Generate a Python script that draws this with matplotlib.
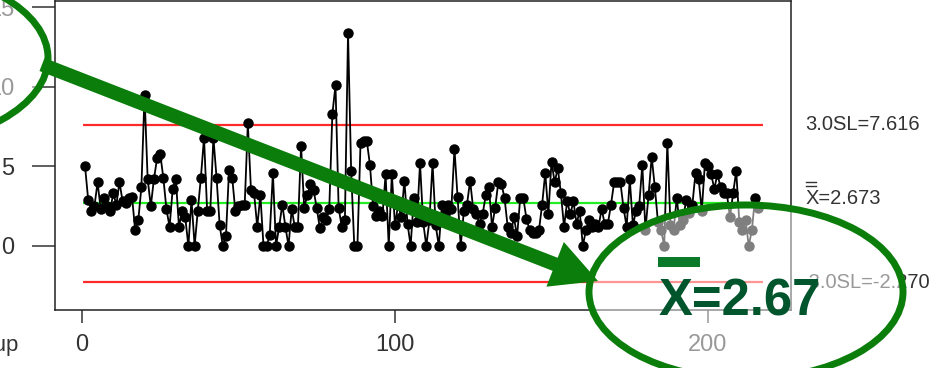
import matplotlib.pyplot as plt
from matplotlib.patches import Ellipse, FancyArrow, Rectangle

# -----------------------------
# Data
# -----------------------------
values = [
    5.0, 2.9, 2.2, 2.5, 4.0, 2.3, 3.0, 2.5, 2.2, 3.3,
    2.6, 4.0, 2.8, 2.7, 3.0, 3.1, 1.0, 1.6, 3.7, 9.5,
    4.2, 2.5, 4.2, 5.5, 5.8, 4.3, 2.3, 1.2, 3.6, 4.2,
    1.2, 2.2, 1.8, 0.0, 2.9, 0.0, 2.2, 4.3, 6.8, 2.2,
    2.2, 6.8, 4.3, 1.3, 0.0, 0.6, 4.8, 4.3, 2.2, 2.5,
    2.6, 2.6, 7.7, 3.5, 3.3, 1.2, 3.2, 0.0, 0.0, 0.7,
    4.6, 0.0, 1.2, 2.6, 1.2, 0.0, 2.3, 1.2, 1.2, 6.3,
    2.4, 3.2, 3.9, 3.5, 2.4, 1.1, 1.8, 1.6, 2.3, 8.3,
    10.1, 2.4, 1.2, 1.6, 13.4, 4.7, 0.0, 0.0, 6.5, 6.6,
    6.6, 5.1, 2.5, 1.9, 2.2, 1.9, 4.5, 0.0, 4.5, 1.3,
    2.6, 1.8, 4.1, 1.4, 0.0, 3.0, 1.5, 5.2, 1.5, 0.0,
    1.6, 5.2, 1.3, 0.0, 2.6, 2.0, 2.6, 2.3, 6.1, 3.1,
    0.0, 2.2, 2.6, 4.1, 2.3, 2.0, 1.4, 2.0, 3.2, 3.7,
    1.2, 2.4, 4.0, 3.9, 3.0, 1.2, 0.8, 1.8, 0.6, 3.0,
    3.0, 1.7, 1.0, 0.8, 0.8, 1.0, 2.6, 4.6, 2.0, 5.3,
    4.0, 4.9, 3.3, 1.2, 2.8, 2.0, 2.8, 1.4, 2.2, 0.0,
    1.0, 1.6, 1.2, 1.4, 1.2, 2.3, 1.4, 1.4, 2.6, 4.0,
    4.0, 4.0, 2.4, 1.2, 4.2, 1.3, 2.2, 2.5, 5.1, 1.0,
    3.2, 5.6, 3.7, 1.5, 1.0, 0.0, 6.5, 1.3, 1.0, 3.0,
    1.3, 1.6, 2.9, 2.1, 2.6, 4.6, 4.2, 2.2, 5.2, 5.0,
    4.5, 3.6, 4.5, 3.7, 3.3, 3.3, 1.8, 3.3, 4.7, 1.5,
    1.0, 1.6, 0.0, 1.0, 3.0, 2.4,
]
subgroups = list(range(1, len(values) + 1))

ucl = 7.616
center = 2.673
lcl = -2.270

x_ticks = [0, 100, 200]
y_ticks = [0, 5, 10, 15]

ucl_label = "3.0SL=7.616"
center_label = "X=2.673"
lcl_label = "-3.0SL=-2.270"
callout = "X=2.67"

W, H = 933, 368
font = ["Liberation Sans", "DejaVu Sans"]

# -----------------------------
# Base chart
# -----------------------------
fig = plt.figure(figsize=(W / 100, H / 100), dpi=100)
ax = fig.add_axes([55 / W, 1 - 310 / H, (791 - 55) / W, (310 - 1) / H])

ax.plot(subgroups, values, "-o", color="black", linewidth=1.3,
        markersize=6.5, zorder=3)
ax.hlines([ucl, lcl], 0.5, 217.5, color="#ff2a2a", linewidth=1.6, zorder=2)
ax.hlines(center, 0.5, 217.5, color="#22ee22", linewidth=1.6, zorder=2)

ax.set_xlim(-8.6, 226.5)
ax.set_ylim(-4.03, 15.4)
ax.set_xticks(x_ticks)
ax.set_yticks(y_ticks)
ax.tick_params(axis="y", length=16.5, width=1.1, pad=13, colors="#333333",
               labelsize=17)
ax.tick_params(axis="x", length=9.5, width=1.1, pad=8, colors="#333333",
               labelsize=17)
for lab in ax.get_xticklabels() + ax.get_yticklabels():
    lab.set_family(font)
for sp in ax.spines.values():
    sp.set_linewidth(1.1)
    sp.set_color("#222222")

# labels to the right of the frame
kw = dict(transform=ax.transData, family=font, fontsize=14.5,
          color="#333333", va="center", ha="left", clip_on=False)
ax.text(231, ucl, ucl_label, **kw)
ax.text(231, center + 0.3, center_label, **kw)
ax.text(230, lcl, lcl_label, **kw)
fig.text(19 / W, 1 - 345 / H, "Subgroup", family=font, fontsize=16,
         color="#333333", ha="right", va="center")

# -----------------------------
# Callout overlay (pixel coordinates)
# -----------------------------
ov = fig.add_axes([0, 0, 1, 1], zorder=10)
ov.set_xlim(0, W)
ov.set_ylim(H, 0)
ov.axis("off")
ov.patch.set_alpha(0)

# double bar over the X of the centre label
for yb in (182, 186):
    ov.plot([806, 816], [yb, yb], color="#333333", linewidth=1)

green = "#0a7d0a"
for cx, cy in [(-109, 58), (746, 292)]:
    ov.add_patch(Ellipse((cx, cy), 314, 174, facecolor="white", alpha=0.5,
                         edgecolor="none"))
    ov.add_patch(Ellipse((cx, cy), 314, 174, fill=False, edgecolor=green,
                         linewidth=5))

ov.add_patch(FancyArrow(42, 64.5, 598 - 42, 281 - 64.5, width=14,
                        head_width=48, head_length=46,
                        length_includes_head=True, color=green,
                        linewidth=0))

ov.add_patch(Rectangle((658, 257), 42, 10, color="#0a7a2a", linewidth=0))
ov.text(659, 315, callout, fontsize=36.5, fontweight="bold",
        family="Liberation Sans", color="#00552d", va="baseline", ha="left")

fig.savefig("out.png", dpi=100)
